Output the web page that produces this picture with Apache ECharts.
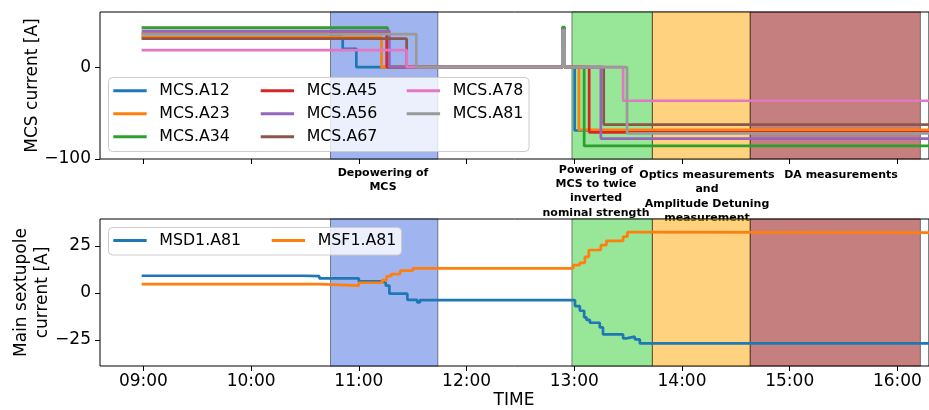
<!DOCTYPE html>
<html><head><meta charset="utf-8">
<script src="https://cdn.jsdelivr.net/npm/echarts@6/dist/echarts.min.js"></script>
<style>html,body{margin:0;padding:0;background:#fff}#c{width:929px;height:410px}</style>
</head><body><div id="c"></div>
<script>
// ---------- data ----------
const tickTimes = ['09:00','10:00','11:00','12:00','13:00','14:00','15:00','16:00'];
const mcsTicks = [-100, 0];
const sextTicks = [-25, 0, 25];

const mcsNames = ['MCS.A12','MCS.A23','MCS.A34','MCS.A45','MCS.A56','MCS.A67','MCS.A78','MCS.A81'];
const A12 = [["08:59",33],["10:51",20],["10:58.6",0],["12:53.4",33],["12:54.6",0],["13:00.2",-69],["16:20",-69]];
const A23 = [["08:59",32.8],["11:12.6",0],["12:53.4",32.8],["12:54.6",0],["13:02.6",-68.3],["16:20",-68.3]];
const A34 = [["08:59",43],["11:16",0],["12:53.4",43.5],["12:54.6",0],["13:05.5",-85.8],["16:20",-85.8]];
const A45 = [["08:59",36.5],["11:15.5",0],["12:53.4",36],["12:54.6",0],["13:08.3",-71],["16:20",-71]];
const A56 = [["08:59",39.5],["11:17",0],["12:53.4",41],["12:54.6",0],["13:14.8",-77.8],["16:20",-77.8]];
const A67 = [["08:59",31],["11:26.6",0],["12:53.4",31],["12:54.6",0],["13:16.4",-62.5],["16:20",-62.5]];
const A78 = [["08:59",18.5],["11:26.6",0],["12:53.4",18.5],["12:54.6",0],["13:27.2",-36.6],["16:20",-36.6]];
const A81 = [["08:59",36],["11:32",0],["12:53.4",40],["12:54.6",0],["13:29.4",-72],["16:20",-72]];
const mcsData = [A12,A23,A34,A45,A56,A67,A78,A81];

const sextNames = ['MSD1.A81','MSF1.A81'];
const MSD1 = [["08:59",9.2],["10:29",9.0],["10:38",7.8],["11:00",6.2],["11:13",5.5],["11:15",4.0],["11:17",-0.3],
  ["11:27",-3.6],["11:32.5",-5],["11:34",-3.8],["13:00.4",-6.9],["13:03.1",-9.4],["13:05.5",-12.9],["13:06.8",-14.3],
  ["13:08.7",-15.8],["13:14.2",-18.3],["13:16",-22],["13:27.2",-24.1],["13:29",-23.2],["13:33.7",-24.6],["13:36.5",-26.8],["16:20",-26.8]];
const MSF1 = [["08:59",4.8],["10:38",4.0],["11:00",5.5],["11:13",6.9],["11:15.5",9.0],["11:18",10.1],["11:23",11.9],
  ["11:30",13.1],["12:59.4",14.9],["13:03",16.1],["13:05.9",19.3],["13:08.1",22.9],["13:14.8",25.5],["13:17.9",27.8],
  ["13:27.2",30],["13:29.6",32.4],["13:33",32.1],["16:20",32.1]];
const sextData = [MSD1, MSF1];

const phaseStart = ['10:44.2','12:58.7','13:43.5','14:38'];
const phaseEnd   = ['11:44','13:43.5','14:38','16:12.8'];
const phaseLabels = ['Depowering of\nMCS','Powering of\nMCS to twice\ninverted\nnominal strength',
  'Optics measurements\nand\nAmplitude Detuning\nmeasurement','DA measurements'];

// ---------- styling ----------
const FONT = '"DejaVu Sans", sans-serif';
const lineColors = ['#1f77b4','#ff7f0e','#2ca02c','#d62728','#9467bd','#8c564b','#e377c2','#9a9a9a'];
const phaseColors = ['rgba(65,105,225,0.5)','rgba(50,205,50,0.5)','rgba(255,165,0,0.5)','rgba(139,0,0,0.5)'];

function h(t){ const p = t.split(':'); return +p[0] + (+p[1])/60; }
const tickHours = tickTimes.map(h);
const XMIN = 9 - 43.6/108.1;
const XMAX = XMIN + 832/108.1;

const areaData = phaseStart.map((s,i)=>[
  {xAxis: h(s), itemStyle:{color: phaseColors[i], borderColor:'rgba(0,0,0,0.45)', borderWidth:1}},
  {xAxis: h(phaseEnd[i])}
]);

function mkX(idx, showLabels){
  return {
    type:'value', gridIndex: idx, min: XMIN, max: XMAX, position:'bottom',
    splitLine:{show:false}, axisLine:{show:false, onZero:false},
    axisTick:{show:true, length:5, lineStyle:{color:'#000', width:1}, customValues: tickHours},
    axisLabel:{show: showLabels, customValues: tickHours, margin: 7, color:'#000', fontFamily: FONT, fontSize: 17,
      formatter: v => { const hh = Math.floor(v+1e-6); const mm = Math.round((v-hh)*60); return String(hh).padStart(2,'0')+':'+String(mm).padStart(2,'0'); }}
  };
}
function mkY(idx, min, max, ticks){
  return {
    type:'value', gridIndex: idx, min, max, position:'left',
    splitLine:{show:false}, axisLine:{show:false, onZero:false},
    axisTick:{show:true, length:5, lineStyle:{color:'#000', width:1}, customValues: ticks},
    axisLabel:{customValues: ticks, margin: 9, color:'#000', fontFamily: FONT, fontSize: 17,
      formatter: v => String(v).replace('-', '\u2212')}
  };
}

const series = [];
mcsData.forEach((d,i)=>{
  series.push({
    type:'line', name: mcsNames[i], xAxisIndex:0, yAxisIndex:0, step:'end', symbol:'none',
    color: lineColors[i], lineStyle:{width:2.7, color: lineColors[i]},
    data: d.map(p=>[h(p[0]), p[1]]),
    markArea: i===0 ? {silent:true, data: areaData} : undefined
  });
});
sextData.forEach((d,i)=>{
  series.push({
    type:'line', name: sextNames[i], xAxisIndex:1, yAxisIndex:1, step:'end', symbol:'none',
    color: lineColors[i], lineStyle:{width:2.7, color: lineColors[i]},
    data: d.map(p=>[h(p[0]), p[1]]),
    markArea: i===0 ? {silent:true, data: areaData} : undefined
  });
});

const legTxt = {fontFamily: FONT, fontSize: 15.8, color:'#000', padding:[0,0,0,7.6], lineHeight: 23};
function mkLegend(names, left, top){
  return {data: names, left, top, orient:'vertical', itemGap:0, itemWidth:33.4, itemHeight:3,
    icon:'rect', selectedMode:false, textStyle: legTxt, padding:0};
}

const graphic = [
  {type:'rect', z:3, shape:{x:108.5, y:77.5, width:420.5, height:74, r:4},
   style:{fill:'rgba(255,255,255,0.8)', stroke:'#cccccc', lineWidth:1}},
  {type:'rect', z:3, shape:{x:108.5, y:227.5, width:293, height:27.5, r:4},
   style:{fill:'rgba(255,255,255,0.8)', stroke:'#cccccc', lineWidth:1}},
  {type:'text', x:33, y:85.5, rotation: Math.PI/2,
   style:{text:'MCS current [A]', x:0, y:0, fill:'#000', font:'17px "DejaVu Sans"', align:'center', verticalAlign:'middle', textAlign:'center', textVerticalAlign:'middle'}},
  {type:'text', x:32.5, y:292.5, rotation: Math.PI/2,
   style:{text:'Main sextupole\ncurrent [A]', x:0, y:0, fill:'#000', font:'17px "DejaVu Sans"', lineHeight:21, align:'center', verticalAlign:'middle', textAlign:'center', textVerticalAlign:'middle'}},
  {type:'text', x:514, y:401,
   style:{text:'TIME', x:0, y:0, fill:'#000', font:'17px "DejaVu Sans"', align:'center', verticalAlign:'middle', textAlign:'center', textVerticalAlign:'middle'}}
];
const annX = [383, 596, 707, 841];
const annY = [165.5, 162.7, 168, 168];
phaseLabels.forEach((t,i)=>{
  graphic.push({type:'text', x: annX[i], y: annY[i],
    style:{text:t, x:0, y:0, fill:'#000', font:'bold 11px "DejaVu Sans"', lineHeight:14.3,
      align:'center', verticalAlign:'top', textAlign:'center', textVerticalAlign:'top'}});
});

const chart = echarts.init(document.getElementById('c'), null, {renderer:'canvas'});
chart.setOption({
  animation:false,
  backgroundColor:'#fff',
  grid:[
    {left:100, right:-3, top:12, height:147, show:true, borderColor:'#000', borderWidth:1, backgroundColor:'transparent'},
    {left:100, right:-3, top:219, height:147, show:true, borderColor:'#000', borderWidth:1, backgroundColor:'transparent'}
  ],
  xAxis:[mkX(0,false), mkX(1,true)],
  yAxis:[mkY(0,-100,60,mcsTicks), mkY(1,-38.8,39.4,sextTicks)],
  legend:[
    mkLegend(['MCS.A12','MCS.A23','MCS.A34'], 113.3, 79.2),
    mkLegend(['MCS.A45','MCS.A56','MCS.A67'], 260.7, 79.2),
    mkLegend(['MCS.A78','MCS.A81'], 406.7, 79.2),
    mkLegend(['MSD1.A81'], 113.3, 229),
    mkLegend(['MSF1.A81'], 271.7, 229)
  ],
  graphic,
  series
});
</script></body></html>
